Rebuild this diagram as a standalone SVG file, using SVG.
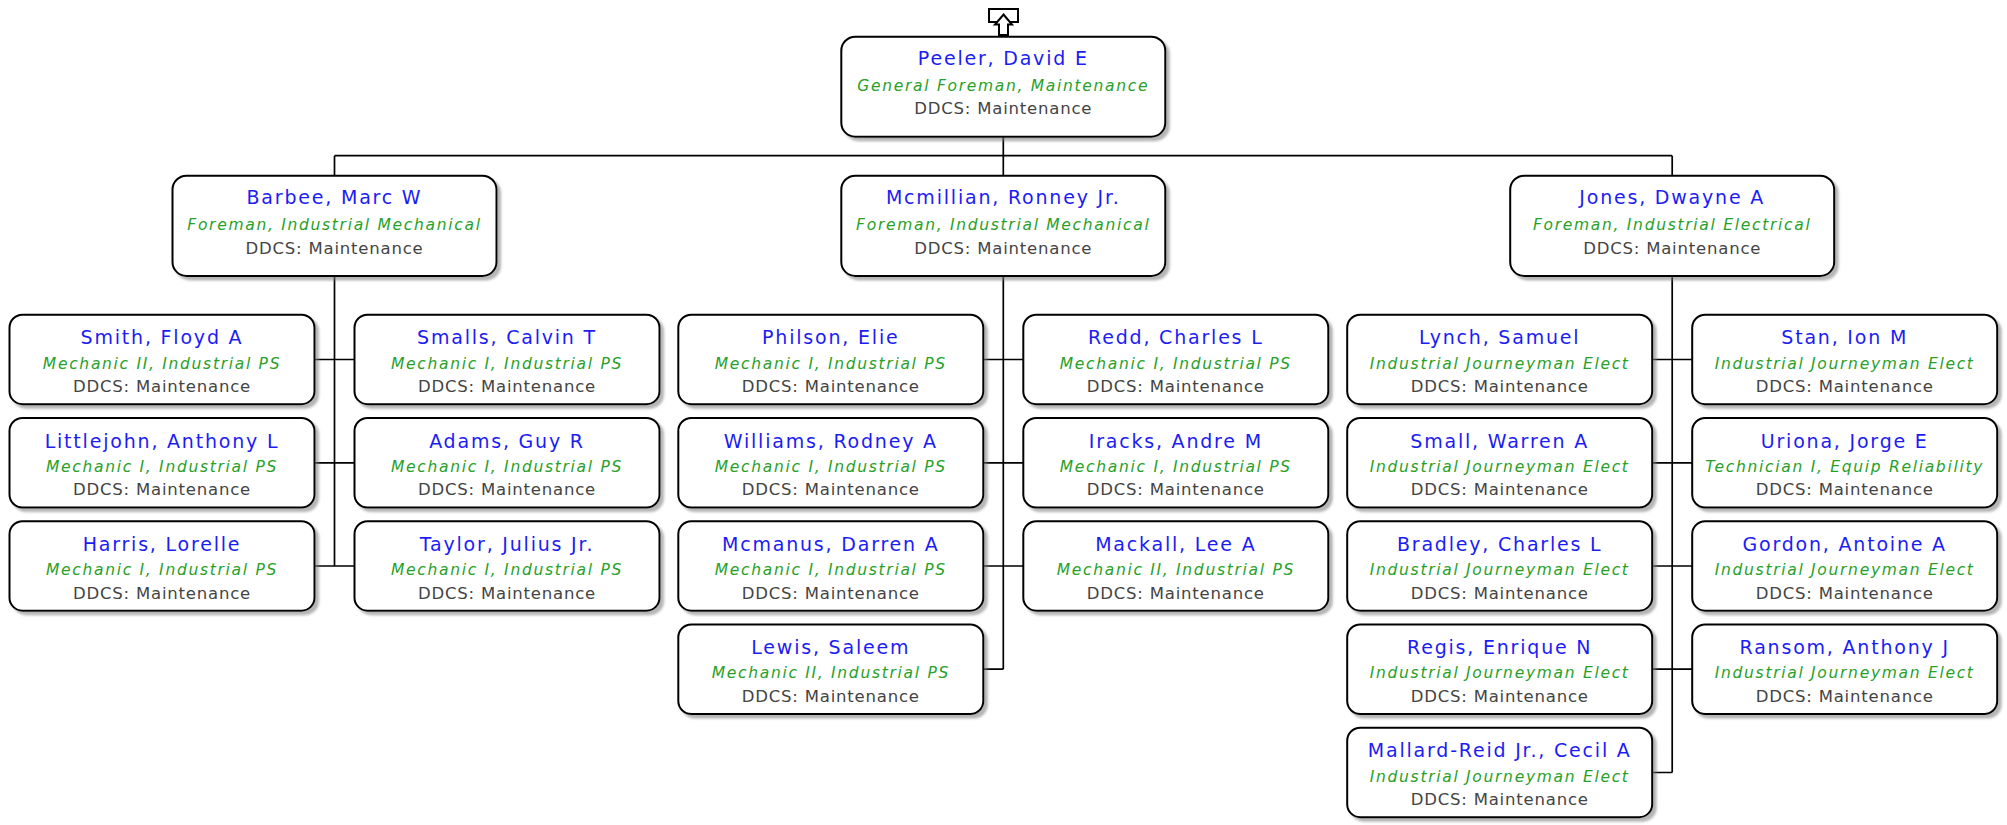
<svg xmlns="http://www.w3.org/2000/svg" width="2007" height="825" viewBox="0 0 2007 825">
<defs>
<filter id="sh" x="-5%" y="-10%" width="115%" height="130%">
<feDropShadow dx="3.5" dy="3.5" stdDeviation="1.2" flood-color="#777" flood-opacity="0.55"/>
</filter>
</defs>
<style>
.b{fill:#fff;stroke:#000;stroke-width:2;filter:url(#sh)}
.n{font-family:"DejaVu Sans",Verdana,sans-serif;font-size:19px;letter-spacing:1.8px;fill:#1c1cf5;text-anchor:middle}
.t{font-family:"DejaVu Sans",Verdana,sans-serif;font-size:15.5px;font-style:italic;letter-spacing:1.7px;fill:#27a127;text-anchor:middle}
.d{font-family:"DejaVu Sans",Verdana,sans-serif;font-size:16.5px;letter-spacing:0.8px;fill:#444;text-anchor:middle}
.c{fill:none;stroke:#000;stroke-width:1.7}
</style>
<rect width="2007" height="825" fill="#fff"/>
<g id="connectors">
<path class="c" d="M1003.3 136.7V155.7M334.5 155.7H1672.2M334.5 155.7V175.7M1003.3 155.7V175.7M1672.2 155.7V175.7"/>
<path class="c" d="M334.5 276V566M314.5 359.5H354.5M314.5 462.8H354.5M314.5 566H354.5"/>
<path class="c" d="M1003.3 276V669.2M983.3 359.5H1023.3M983.3 462.8H1023.3M983.3 566H1023.3M983.3 669.2H1003.3"/>
<path class="c" d="M1672.2 276V772.5M1652.2 359.5H1692.2M1652.2 462.8H1692.2M1652.2 566H1692.2M1652.2 669.2H1692.2M1652.2 772.5H1672.2"/>
</g>
<g id="upicon">
<rect x="989" y="9" width="29" height="13" fill="#fff" stroke="#000" stroke-width="2"/>
<polygon points="1003.5,14.5 1012,24.5 1008,24.5 1008,35 999,35 999,24.5 995,24.5" fill="#fff" stroke="#000" stroke-width="2"/>
</g>
<g id="peeler"><rect class="b" x="841.3" y="36.7" width="324" height="100" rx="14"/><text class="n" x="1003.3" y="65">Peeler, David E</text><text class="t" x="1003.3" y="91">General Foreman, Maintenance</text><text class="d" x="1003.3" y="114">DDCS: Maintenance</text></g>
<g id="barbee"><rect class="b" x="172.5" y="175.7" width="324" height="100.3" rx="14"/><text class="n" x="334.5" y="204.3">Barbee, Marc W</text><text class="t" x="334.5" y="230">Foreman, Industrial Mechanical</text><text class="d" x="334.5" y="254">DDCS: Maintenance</text></g>
<g id="mcmillian"><rect class="b" x="841.3" y="175.7" width="324" height="100.3" rx="14"/><text class="n" x="1003.3" y="204.3">Mcmillian, Ronney Jr.</text><text class="t" x="1003.3" y="230">Foreman, Industrial Mechanical</text><text class="d" x="1003.3" y="254">DDCS: Maintenance</text></g>
<g id="jones"><rect class="b" x="1510.2" y="175.7" width="324" height="100.3" rx="14"/><text class="n" x="1672.2" y="204.3">Jones, Dwayne A</text><text class="t" x="1672.2" y="230">Foreman, Industrial Electrical</text><text class="d" x="1672.2" y="254">DDCS: Maintenance</text></g>

<g id="smith"><rect class="b" x="9.5" y="314.7" width="305" height="89.5" rx="13"/><text class="n" x="162" y="344.2">Smith, Floyd A</text><text class="t" x="162" y="368.5">Mechanic II, Industrial PS</text><text class="d" x="162" y="392">DDCS: Maintenance</text></g>
<g id="smalls"><rect class="b" x="354.5" y="314.7" width="305" height="89.5" rx="13"/><text class="n" x="507" y="344.2">Smalls, Calvin T</text><text class="t" x="507" y="368.5">Mechanic I, Industrial PS</text><text class="d" x="507" y="392">DDCS: Maintenance</text></g>
<g id="littlejohn"><rect class="b" x="9.5" y="418" width="305" height="89.5" rx="13"/><text class="n" x="162" y="447.5">Littlejohn, Anthony L</text><text class="t" x="162" y="471.8">Mechanic I, Industrial PS</text><text class="d" x="162" y="495.3">DDCS: Maintenance</text></g>
<g id="adams"><rect class="b" x="354.5" y="418" width="305" height="89.5" rx="13"/><text class="n" x="507" y="447.5">Adams, Guy R</text><text class="t" x="507" y="471.8">Mechanic I, Industrial PS</text><text class="d" x="507" y="495.3">DDCS: Maintenance</text></g>
<g id="harris"><rect class="b" x="9.5" y="521.2" width="305" height="89.5" rx="13"/><text class="n" x="162" y="550.7">Harris, Lorelle</text><text class="t" x="162" y="575">Mechanic I, Industrial PS</text><text class="d" x="162" y="598.5">DDCS: Maintenance</text></g>
<g id="taylor"><rect class="b" x="354.5" y="521.2" width="305" height="89.5" rx="13"/><text class="n" x="507" y="550.7">Taylor, Julius Jr.</text><text class="t" x="507" y="575">Mechanic I, Industrial PS</text><text class="d" x="507" y="598.5">DDCS: Maintenance</text></g>

<g id="philson"><rect class="b" x="678.3" y="314.7" width="305" height="89.5" rx="13"/><text class="n" x="830.8" y="344.2">Philson, Elie</text><text class="t" x="830.8" y="368.5">Mechanic I, Industrial PS</text><text class="d" x="830.8" y="392">DDCS: Maintenance</text></g>
<g id="redd"><rect class="b" x="1023.3" y="314.7" width="305" height="89.5" rx="13"/><text class="n" x="1175.8" y="344.2">Redd, Charles L</text><text class="t" x="1175.8" y="368.5">Mechanic I, Industrial PS</text><text class="d" x="1175.8" y="392">DDCS: Maintenance</text></g>
<g id="williams"><rect class="b" x="678.3" y="418" width="305" height="89.5" rx="13"/><text class="n" x="830.8" y="447.5">Williams, Rodney A</text><text class="t" x="830.8" y="471.8">Mechanic I, Industrial PS</text><text class="d" x="830.8" y="495.3">DDCS: Maintenance</text></g>
<g id="iracks"><rect class="b" x="1023.3" y="418" width="305" height="89.5" rx="13"/><text class="n" x="1175.8" y="447.5">Iracks, Andre M</text><text class="t" x="1175.8" y="471.8">Mechanic I, Industrial PS</text><text class="d" x="1175.8" y="495.3">DDCS: Maintenance</text></g>
<g id="mcmanus"><rect class="b" x="678.3" y="521.2" width="305" height="89.5" rx="13"/><text class="n" x="830.8" y="550.7">Mcmanus, Darren A</text><text class="t" x="830.8" y="575">Mechanic I, Industrial PS</text><text class="d" x="830.8" y="598.5">DDCS: Maintenance</text></g>
<g id="mackall"><rect class="b" x="1023.3" y="521.2" width="305" height="89.5" rx="13"/><text class="n" x="1175.8" y="550.7">Mackall, Lee A</text><text class="t" x="1175.8" y="575">Mechanic II, Industrial PS</text><text class="d" x="1175.8" y="598.5">DDCS: Maintenance</text></g>
<g id="lewis"><rect class="b" x="678.3" y="624.5" width="305" height="89.5" rx="13"/><text class="n" x="830.8" y="654">Lewis, Saleem</text><text class="t" x="830.8" y="678.3">Mechanic II, Industrial PS</text><text class="d" x="830.8" y="701.8">DDCS: Maintenance</text></g>

<g id="lynch"><rect class="b" x="1347.2" y="314.7" width="305" height="89.5" rx="13"/><text class="n" x="1499.7" y="344.2">Lynch, Samuel</text><text class="t" x="1499.7" y="368.5">Industrial Journeyman Elect</text><text class="d" x="1499.7" y="392">DDCS: Maintenance</text></g>
<g id="stan"><rect class="b" x="1692.2" y="314.7" width="305" height="89.5" rx="13"/><text class="n" x="1844.7" y="344.2">Stan, Ion M</text><text class="t" x="1844.7" y="368.5">Industrial Journeyman Elect</text><text class="d" x="1844.7" y="392">DDCS: Maintenance</text></g>
<g id="small"><rect class="b" x="1347.2" y="418" width="305" height="89.5" rx="13"/><text class="n" x="1499.7" y="447.5">Small, Warren A</text><text class="t" x="1499.7" y="471.8">Industrial Journeyman Elect</text><text class="d" x="1499.7" y="495.3">DDCS: Maintenance</text></g>
<g id="uriona"><rect class="b" x="1692.2" y="418" width="305" height="89.5" rx="13"/><text class="n" x="1844.7" y="447.5">Uriona, Jorge E</text><text class="t" x="1844.7" y="471.8">Technician I, Equip Reliability</text><text class="d" x="1844.7" y="495.3">DDCS: Maintenance</text></g>
<g id="bradley"><rect class="b" x="1347.2" y="521.2" width="305" height="89.5" rx="13"/><text class="n" x="1499.7" y="550.7">Bradley, Charles L</text><text class="t" x="1499.7" y="575">Industrial Journeyman Elect</text><text class="d" x="1499.7" y="598.5">DDCS: Maintenance</text></g>
<g id="gordon"><rect class="b" x="1692.2" y="521.2" width="305" height="89.5" rx="13"/><text class="n" x="1844.7" y="550.7">Gordon, Antoine A</text><text class="t" x="1844.7" y="575">Industrial Journeyman Elect</text><text class="d" x="1844.7" y="598.5">DDCS: Maintenance</text></g>
<g id="regis"><rect class="b" x="1347.2" y="624.5" width="305" height="89.5" rx="13"/><text class="n" x="1499.7" y="654">Regis, Enrique N</text><text class="t" x="1499.7" y="678.3">Industrial Journeyman Elect</text><text class="d" x="1499.7" y="701.8">DDCS: Maintenance</text></g>
<g id="ransom"><rect class="b" x="1692.2" y="624.5" width="305" height="89.5" rx="13"/><text class="n" x="1844.7" y="654">Ransom, Anthony J</text><text class="t" x="1844.7" y="678.3">Industrial Journeyman Elect</text><text class="d" x="1844.7" y="701.8">DDCS: Maintenance</text></g>
<g id="mallard"><rect class="b" x="1347.2" y="727.7" width="305" height="89.5" rx="13"/><text class="n" x="1499.7" y="757.2">Mallard-Reid Jr., Cecil A</text><text class="t" x="1499.7" y="781.5">Industrial Journeyman Elect</text><text class="d" x="1499.7" y="805">DDCS: Maintenance</text></g>
</svg>
